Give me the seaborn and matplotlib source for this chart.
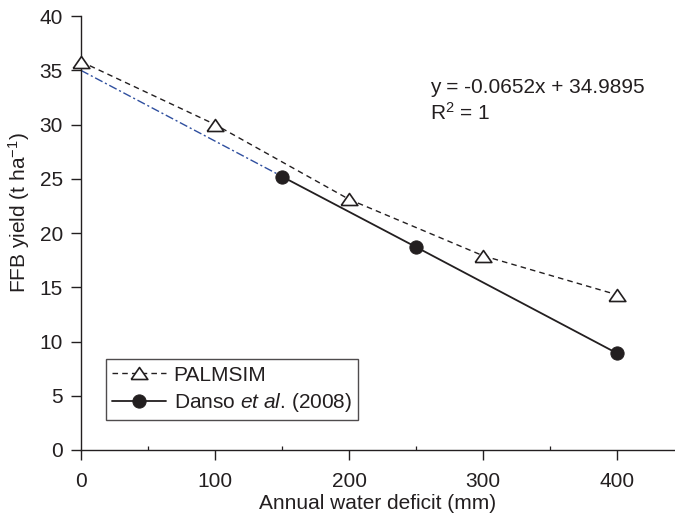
import matplotlib
matplotlib.use("Agg")
import matplotlib.pyplot as plt
import seaborn as sns
import numpy as np
import pandas as pd

# Data
palmsim_x = [0, 100, 200, 300, 400]
palmsim_y = [35.8, 30.0, 23.1, 17.9, 14.3]
danso_x = [150, 250, 400]
danso_y = [25.2, 18.7, 8.9]
fit_slope = -0.0652
fit_intercept = 34.9895
fit_x = [0, 150]
x_ticks = [0, 100, 200, 300, 400]
x_minor = [50, 150, 250, 350]
y_ticks = [0, 5, 10, 15, 20, 25, 30, 35, 40]

sns.set_theme(style="ticks")
plt.rcParams['font.family'] = ['Liberation Sans', 'DejaVu Sans']
plt.rcParams['mathtext.fontset'] = 'custom'
plt.rcParams['mathtext.rm'] = 'Liberation Sans'
plt.rcParams['mathtext.it'] = 'Liberation Sans:italic'

FS = 15
fig = plt.figure(figsize=(6.75, 5.17), dpi=100)
ax = fig.add_axes([0.12, 0.1296, 1.0 - 0.12, 0.969 - 0.1296])

ink = '#231f20'
tri = [(-1, -0.72), (1, -0.72), (0, 0.72), (-1, -0.72)]
fit_y = [fit_slope * v + fit_intercept for v in fit_x]
sns.lineplot(x=fit_x, y=fit_y, ax=ax, color='#2f4f9f', linestyle=(0, (6, 2, 1.5, 2)),
             linewidth=1.0, label='_nolegend_')
sns.lineplot(x=palmsim_x, y=palmsim_y, ax=ax, color=ink, linestyle=(0, (4, 3)),
             linewidth=1.0, marker=tri, markersize=12, markerfacecolor='white',
             markeredgecolor=ink, markeredgewidth=1.2, label='PALMSIM', clip_on=False,
             zorder=5)
sns.lineplot(x=danso_x, y=danso_y, ax=ax, color=ink, linestyle='-',
             linewidth=1.3, marker='o', markersize=9.5, markerfacecolor=ink,
             markeredgecolor=ink, label=r'Danso $\it{et\ al}$. (2008)', zorder=6)

ax.set_xlim(0, 443)
ax.set_ylim(0, 40)
ax.set_xticks(x_ticks)
ax.set_xticks(x_minor, minor=True)
ax.set_yticks(y_ticks)
for s in ['top', 'right']:
    ax.spines[s].set_visible(False)
for s in ['left', 'bottom']:
    ax.spines[s].set_color(ink)
    ax.spines[s].set_linewidth(1.0)
ax.tick_params(axis='both', which='major', labelsize=FS, length=7, width=1.0,
               color=ink, labelcolor=ink, direction='out')
ax.tick_params(axis='x', which='major', pad=9)
ax.tick_params(axis='y', which='major', pad=6)
ax.tick_params(axis='x', which='minor', length=3, width=0.9, color=ink, direction='in')
ax.set_xlabel('Annual water deficit (mm)', fontsize=FS, color=ink, labelpad=2)
ax.set_ylabel(r'FFB yield (t ha$^{-1}$)', fontsize=FS, color=ink)
ax.yaxis.set_label_coords(-0.083, 0.546)

ax.text(0.588, 0.836, 'y = -0.0652x + 34.9895', transform=ax.transAxes,
        fontsize=FS, color=ink, va='center')
ax.text(0.588, 0.776, r'R$^{2}$ = 1', transform=ax.transAxes,
        fontsize=FS, color=ink, va='center')

leg = ax.legend(loc='lower left', bbox_to_anchor=(0.042, 0.069), fontsize=FS,
                frameon=True, fancybox=False, edgecolor=ink, handlelength=2.6,
                borderpad=0.3, labelspacing=0.3, handletextpad=0.35, borderaxespad=0)
leg.get_frame().set_linewidth(1.0)
for t in leg.get_texts():
    t.set_color(ink)

fig.savefig('out.png', dpi=100)
